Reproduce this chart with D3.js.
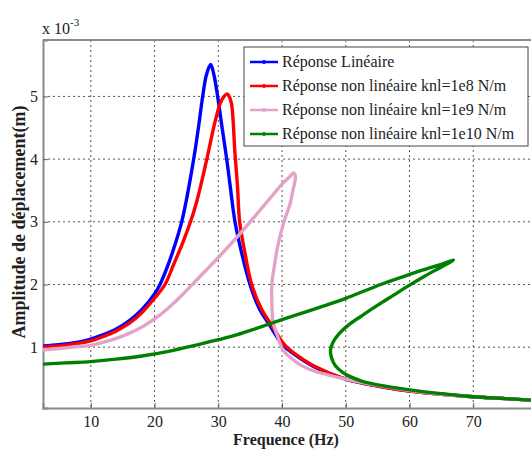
<!DOCTYPE html>
<html>
<head>
<meta charset="utf-8">
<script src="https://cdn.jsdelivr.net/npm/d3@7"></script>
<style>
  html, body { margin: 0; padding: 0; background: #fff; }
  svg { display: block; }
  svg text { font-family: "Liberation Serif", "Times New Roman", Times, "DejaVu Serif", serif; }
</style>
</head>
<body>
<svg id="chart" width="531" height="450"></svg>
<script>
// ---- Data (frequency Hz, amplitude x1e-3 m) ----
const xTicks = [10, 20, 30, 40, 50, 60, 70];
const yTicks = [1, 2, 3, 4, 5];
const legendLabels = [
  "Réponse Linéaire",
  "Réponse non linéaire knl=1e8 N/m",
  "Réponse non linéaire knl=1e9 N/m",
  "Réponse non linéaire knl=1e10 N/m"
];
const seriesColors = ["#0000ff", "#ff0000", "#e3a3c9", "#008000"];

const linearResp = [
  [2.5,1.02],[5,1.04],[8,1.08],[10,1.13],[12,1.2],[14,1.29],[16,1.42],[18,1.6],
  [20,1.85],[20.86,2.0],[22,2.28],[23,2.57],[24.26,3.0],[25,3.35],[25.67,3.72],
  [26.3,4.1],[26.95,4.55],[27.55,5.0],[28.15,5.35],[28.8,5.51],[29.3,5.35],[29.9,5.0],
  [30.6,4.5],[31.32,4.0],[31.84,3.59],[32.62,3.0],[33.67,2.5],[34.97,2.0],[36.5,1.6],
  [38,1.36],[40,1.05],[42,0.88],[45,0.69],[50,0.49],[55,0.38],
  [60,0.3],[65,0.25],[70,0.21],[75,0.18],[80,0.15]
];
const knl1e8 = [
  [2.5,1.0],[5,1.02],[8,1.06],[10,1.1],[12,1.17],[14,1.26],[16,1.38],[18,1.55],
  [20,1.78],[21.64,2.0],[23,2.32],[24.4,2.66],[25.64,3.0],[26.5,3.28],[27.3,3.6],
  [28.2,4.0],[29.5,4.6],[30.35,4.9],[30.9,5.0],[31.41,5.04],[31.8,4.98],[32.1,4.87],
  [32.63,4.07],[33.0,3.59],[33.35,3.0],[34.19,2.5],[35.24,2.0],[36.81,1.6],
  [38.2,1.38],[40.3,1.05],[42.2,0.88],[45,0.7],[50,0.49],[55,0.38],[60,0.3],
  [65,0.25],[70,0.21],[75,0.18],[80,0.15]
];
const knl1e9 = [
  [2.5,0.96],[5,0.98],[8,1.01],[10,1.03],[12,1.08],[14,1.14],[16,1.22],[18,1.32],
  [20,1.45],[22,1.61],[24,1.8],[26,2.01],[28,2.22],[30,2.43],[32,2.65],[34,2.88],
  [36,3.12],[38,3.36],[40,3.6],[41.2,3.72],[41.8,3.78],[42.1,3.72],[41.7,3.5],
  [41.3,3.3],[40.3,3.0],[39.3,2.6],[38.8,2.3],[38.4,2.0],[38.4,1.7],[38.6,1.4],
  [39.2,1.2],[40.2,0.95],[41.5,0.82],[43,0.71],[45,0.62],[50,0.49],[55,0.39],
  [60,0.31],[65,0.25],[70,0.21],[75,0.18],[80,0.15]
];
const knl1e10 = [
  [2.5,0.73],[6,0.75],[10,0.77],[14,0.81],[18,0.86],[22,0.93],[26,1.02],[30,1.12],
  [33,1.2],[36,1.3],[40,1.44],[43,1.54],[46,1.64],[50,1.78],[53,1.9],[56,2.02],
  [60,2.16],[63,2.26],[65,2.32],[66.9,2.39],[65,2.28],[62.5,2.14],[60,1.99],
  [57.5,1.83],[55,1.67],[52.5,1.5],[50.5,1.36],[49,1.22],[48,1.08],[47.6,0.95],
  [47.8,0.82],[48.4,0.7],[49.5,0.6],[50.7,0.53],[52.5,0.46],[55,0.4],[60,0.32],
  [65,0.26],[70,0.21],[75,0.18],[80,0.15]
];
const allSeries = [linearResp, knl1e8, knl1e9, knl1e10];

// ---- Layout ----
const svg = d3.select("#chart");
const pL = 43, pT = 40, pR = 537, pB = 408;
const x = d3.scaleLinear().domain([2.5, 80]).range([pL, pR]);
const y = d3.scaleLinear().domain([0.03, 5.9]).range([pB, pT]);

svg.append("defs").append("clipPath").attr("id", "plotclip")
  .append("rect").attr("x", pL).attr("y", pT)
  .attr("width", pR - pL).attr("height", pB - pT);

// grid
const grid = svg.append("g");
grid.selectAll(".gx").data(xTicks).enter().append("line")
  .attr("x1", d => x(d)).attr("x2", d => x(d))
  .attr("y1", pT).attr("y2", pB)
  .attr("stroke", "#555").attr("stroke-width", 1).attr("stroke-dasharray", "2,3");
grid.selectAll(".gy").data(yTicks).enter().append("line")
  .attr("x1", pL).attr("x2", pR)
  .attr("y1", d => y(d)).attr("y2", d => y(d))
  .attr("stroke", "#555").attr("stroke-width", 1).attr("stroke-dasharray", "2,3");

// axes
const xAxis = d3.axisBottom(x).tickValues(xTicks).tickSize(-5).tickPadding(8).tickFormat(d3.format("d"));
const yAxis = d3.axisLeft(y).tickValues(yTicks).tickSize(-5).tickPadding(5).tickFormat(d3.format("d"));
const gx = svg.append("g").attr("transform", `translate(0,${pB})`).call(xAxis);
const gy = svg.append("g").attr("transform", `translate(${pL},0)`).call(yAxis);
[gx, gy].forEach(g => {
  g.attr("font-family", null);
  g.select(".domain").attr("stroke", "#8a8a8a").attr("stroke-width", 2);
  g.selectAll(".tick line").attr("stroke", "#666");
  g.selectAll("text").attr("font-size", 16).attr("fill", "#222");
});
// top border
svg.append("line").attr("x1", pL).attr("x2", pR).attr("y1", pT).attr("y2", pT)
  .attr("stroke", "#8a8a8a").attr("stroke-width", 2);

// curves
const line = d3.line().x(d => x(d[0])).y(d => y(d[1])).curve(d3.curveCatmullRom.alpha(0.5));
const plot = svg.append("g").attr("clip-path", "url(#plotclip)");
allSeries.forEach((s, i) => {
  plot.append("path").datum(s)
    .attr("d", line)
    .attr("fill", "none")
    .attr("stroke", seriesColors[i])
    .attr("stroke-width", 3.4)
    .attr("stroke-linejoin", "round");
});

// multiplier
const mult = svg.append("text").attr("x", 42).attr("y", 34)
  .attr("font-size", 16).attr("fill", "#222");
mult.append("tspan").text("x 10");
mult.append("tspan").attr("dy", -8).attr("font-size", 11).text("-3");

// axis labels
svg.append("text").attr("x", 286).attr("y", 445)
  .attr("text-anchor", "middle").attr("font-size", 16)
  .attr("font-weight", "bold").attr("fill", "#222").text("Frequence (Hz)");
svg.append("text").attr("transform", "translate(25,222) rotate(-90)")
  .attr("text-anchor", "middle").attr("font-size", 18)
  .attr("font-weight", "bold").attr("fill", "#222").text("Amplitude de déplacement(m)");

// legend
const lg = svg.append("g");
lg.append("rect").attr("x", 244).attr("y", 47).attr("width", 284).attr("height", 99)
  .attr("fill", "#fff").attr("stroke", "#444").attr("stroke-width", 1);
legendLabels.forEach((lab, i) => {
  const yy = 62 + i * 24;
  lg.append("line").attr("x1", 250).attr("x2", 278).attr("y1", yy).attr("y2", yy)
    .attr("stroke", seriesColors[i]).attr("stroke-width", 2.5);
  lg.append("circle").attr("cx", 264).attr("cy", yy).attr("r", 2).attr("fill", seriesColors[i]);
  lg.append("text").attr("x", 282).attr("y", yy + 5)
    .attr("font-size", 16).attr("fill", "#222").text(lab);
});
</script>
</body>
</html>
